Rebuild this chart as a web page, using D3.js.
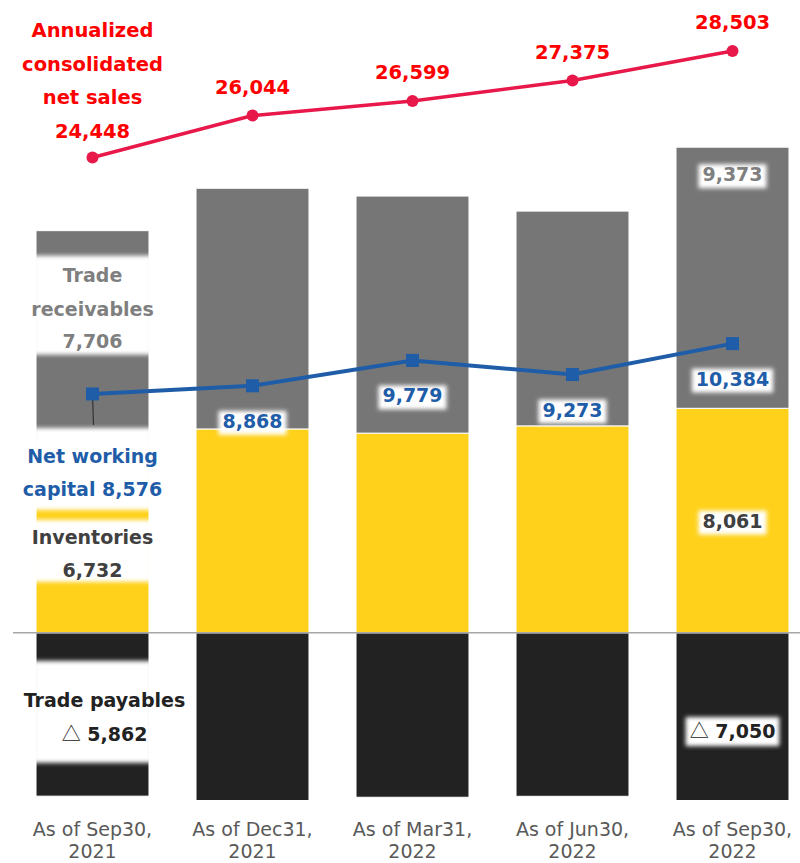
<!DOCTYPE html>
<html>
<head>
<meta charset="utf-8">
<script src="https://cdn.jsdelivr.net/npm/d3@7"></script>
<style>
  html, body { margin: 0; padding: 0; background: #fff; }
  svg { display: block; font-family: "DejaVu Sans", Verdana, sans-serif; }
</style>
</head>
<body>
<svg id="chart" width="800" height="863"></svg>
<script>
// ---- data ----
const categories = ["As of Sep30, 2021", "As of Dec31, 2021", "As of Mar31, 2022", "As of Jun30, 2022", "As of Sep30, 2022"];
const categoryLine1 = ["As of Sep30,", "As of Dec31,", "As of Mar31,", "As of Jun30,", "As of Sep30,"];
const categoryLine2 = ["2021", "2021", "2022", "2022", "2022"];
const tradeReceivables = [7706, 8640, 8510, 7710, 9373];
const inventories = [6732, 7320, 7170, 7430, 8061];
const tradePayables = [5862, 7092, 5901, 5867, 7050];
const netWorkingCapital = [8576, 8868, 9779, 9273, 10384];
const netSales = [24448, 26044, 26599, 27375, 28503];
const leftDomain = [-6000, 22000];
const rightDomain = [0, 30000];

const fmt = d3.format(",");

const colors = {
  receivables: "#767676",
  inventories: "#FFD11A",
  payables: "#222222",
  nwc: "#1F5DA8",
  sales: "#E8194A",
  salesText: "#FF0000",
  recText: "#7F7F7F",
  invText: "#404040",
  payText: "#222222",
  axisText: "#595959"
};

const svg = d3.select("#chart");
const defs = svg.append("defs");
const f = defs.append("filter").attr("id", "soft")
  .attr("x", "-30%").attr("y", "-60%").attr("width", "160%").attr("height", "220%");
f.append("feGaussianBlur").attr("stdDeviation", 2);

const x = d3.scaleBand().domain(d3.range(categories.length))
  .range([12.5, 812.5]).paddingInner(0.294).paddingOuter(0.147);
const y = d3.scaleLinear().domain(leftDomain).range([800, 20]);
const y2 = d3.scaleLinear().domain(rightDomain).range([800, 11.6]);
const cx = i => x(i) + x.bandwidth() / 2;

defs.append("clipPath").attr("id", "plot")
  .append("rect").attr("x", 0).attr("y", 0).attr("width", 800).attr("height", y(leftDomain[0]));

// ---- stacked bars ----
const rows = categories.map((c, i) => ({
  i, inventories: inventories[i], receivables: tradeReceivables[i], payables: -tradePayables[i]
}));
const keys = ["inventories", "receivables", "payables"];
const stack = d3.stack().keys(keys).offset(d3.stackOffsetDiverging)(rows);

const barG = svg.append("g").attr("clip-path", "url(#plot)");
barG.selectAll("g.series").data(stack).join("g")
  .attr("fill", d => colors[d.key])
  .selectAll("rect").data(d => d).join("rect")
  .attr("x", d => x(d.data.i))
  .attr("width", x.bandwidth())
  .attr("y", d => y(Math.max(d[0], d[1])))
  .attr("height", d => Math.abs(y(d[0]) - y(d[1])))
  .attr("stroke", "#fff").attr("stroke-width", 1);

// ---- baseline ----
svg.append("line")
  .attr("x1", 13).attr("x2", 800)
  .attr("y1", y(0)).attr("y2", y(0))
  .attr("stroke", "#A6A6A6").attr("stroke-width", 1.5);

const TRI_FONT = "'Noto Sans CJK JP', 'DejaVu Sans', sans-serif";

// ---- first-bar series labels (with white boxes) ----
const b0 = 0;
const labelG = svg.append("g");
function multiLabel(lines, cxv, baselines, color, boxTop, boxBottom) {
  labelG.append("rect")
    .attr("x", x(b0) - 3).attr("width", x.bandwidth() + 6)
    .attr("y", boxTop).attr("height", boxBottom - boxTop)
    .attr("fill", "#fff").attr("filter", "url(#soft)");
  const t = svg.append("g").attr("class", "lbl");
  lines.forEach((ln, k) => {
    const tx = t.append("text")
      .attr("x", cxv).attr("y", baselines[k])
      .attr("text-anchor", "middle")
      .attr("font-size", 19).attr("font-weight", "bold")
      .attr("fill", color);
    if (typeof ln === "string") tx.text(ln);
    else ln.forEach(p => {
      const ts = tx.append("tspan").attr("font-weight", p.w || "bold").text(p.t);
      if (p.font) ts.attr("font-family", p.font);
    });
  });
  return t;
}

// receivables label
const recTop = y(inventories[0] + tradeReceivables[0]);
multiLabel(["Trade", "receivables", fmt(tradeReceivables[0])], cx(0),
  [recTop + 51, recTop + 85, recTop + 117], colors.recText, recTop + 25, recTop + 124);

// net working capital label
const nwcY0 = y(netWorkingCapital[0]);
multiLabel(["Net working", "capital " + fmt(netWorkingCapital[0])], cx(0),
  [nwcY0 + 69, nwcY0 + 102], colors.nwc, nwcY0 + 34, nwcY0 + 116);

// inventories label
multiLabel(["Inventories", fmt(inventories[0])], cx(0),
  [y(0) - 89, y(0) - 56], colors.invText, y(0) - 113, y(0) - 51);

// payables label
multiLabel(["Trade payables", [{t: "\u25B3", w: "normal", font: TRI_FONT}, {t: " " + fmt(tradePayables[0])}]], cx(0) + 12,
  [y(0) + 74, y(0) + 108], colors.payText, y(0) + 28, y(0) + 130);

// ---- value labels on other bars ----
function boxedValue(txt, cxv, baseline, color, parts) {
  const g = svg.append("g");
  const bg = g.append("rect").attr("fill", "#fff").attr("filter", "url(#soft)");
  const t = g.append("text").attr("x", cxv).attr("y", baseline)
    .attr("text-anchor", "middle").attr("font-size", 19).attr("font-weight", "bold")
    .attr("fill", color);
  if (parts) parts.forEach(p => {
    const ts = t.append("tspan").attr("font-weight", p.w || "bold").text(p.t);
    if (p.font) ts.attr("font-family", p.font);
  });
  else t.text(txt);
  const bb = t.node().getBBox();
  bg.attr("x", bb.x - 4).attr("y", bb.y + 1).attr("width", bb.width + 8).attr("height", bb.height + 2);
  return g;
}

// ---- net working capital line ----
const nwcLine = d3.line().x((d, i) => cx(i)).y(d => y(d));
// leader line for first point
svg.append("line")
  .attr("x1", cx(0)).attr("x2", cx(0) + 1)
  .attr("y1", y(netWorkingCapital[0])).attr("y2", nwcY0 + 31)
  .attr("stroke", "#333").attr("stroke-width", 1.2);
svg.append("path").datum(netWorkingCapital)
  .attr("d", nwcLine).attr("fill", "none")
  .attr("stroke", colors.nwc).attr("stroke-width", 4);
svg.selectAll("rect.nwcm").data(netWorkingCapital).join("rect")
  .attr("class", "nwcm")
  .attr("x", (d, i) => cx(i) - 6.5).attr("y", d => y(d) - 6.5)
  .attr("width", 13).attr("height", 13)
  .attr("fill", colors.nwc);

// value labels for other bars
for (let i = 1; i < categories.length; i++) {
  boxedValue(fmt(netWorkingCapital[i]), cx(i), y(netWorkingCapital[i]) + 42, colors.nwc);
}
const last = categories.length - 1;
boxedValue(fmt(tradeReceivables[last]), cx(last), y(inventories[last] + tradeReceivables[last]) + 34, colors.recText);
boxedValue(fmt(inventories[last]), cx(last), (y(0) + y(inventories[last])) / 2 + 7, "#404040");
boxedValue(null, cx(last), (y(0) + y(-tradePayables[last])) / 2 + 7, colors.payText,
  [{t: "\u25B3", w: "normal", font: TRI_FONT}, {t: " " + fmt(tradePayables[last])}]);

// ---- net sales line ----
const salesLine = d3.line().x((d, i) => cx(i)).y(d => y2(d));
svg.append("path").datum(netSales)
  .attr("d", salesLine).attr("fill", "none")
  .attr("stroke", colors.sales).attr("stroke-width", 3.5);
svg.selectAll("circle.sm").data(netSales).join("circle")
  .attr("class", "sm")
  .attr("cx", (d, i) => cx(i)).attr("cy", d => y2(d)).attr("r", 6)
  .attr("fill", colors.sales);

// first sales label (multi-line)
const s0 = y2(netSales[0]);
["Annualized", "consolidated", "net sales", fmt(netSales[0])].forEach((ln, k, arr) => {
  svg.append("text").attr("x", cx(0)).attr("y", s0 - 20 - (arr.length - 1 - k) * 33.5)
    .attr("text-anchor", "middle").attr("font-size", 19.5).attr("font-weight", "bold")
    .attr("fill", colors.salesText).text(ln);
});
for (let i = 1; i < netSales.length; i++) {
  svg.append("text").attr("x", cx(i)).attr("y", y2(netSales[i]) - 22)
    .attr("text-anchor", "middle").attr("font-size", 19.5).attr("font-weight", "bold")
    .attr("fill", colors.salesText).text(fmt(netSales[i]));
}

// ---- x axis ----
const axis = d3.axisBottom(x).tickSize(0).tickFormat(() => "");
const ag = svg.append("g").attr("transform", `translate(0,${y(leftDomain[0])})`).call(axis);
ag.select(".domain").remove();
ag.selectAll(".tick text").each(function(d) {
  const t = d3.select(this).attr("y", 0).attr("dy", null)
    .attr("font-family", "DejaVu Sans").attr("font-size", 19)
    .attr("fill", colors.axisText);
  t.append("tspan").attr("x", 0).attr("y", 36).text(categoryLine1[d]);
  t.append("tspan").attr("x", 0).attr("y", 57.5).text(categoryLine2[d]);
});
</script>
</body>
</html>
